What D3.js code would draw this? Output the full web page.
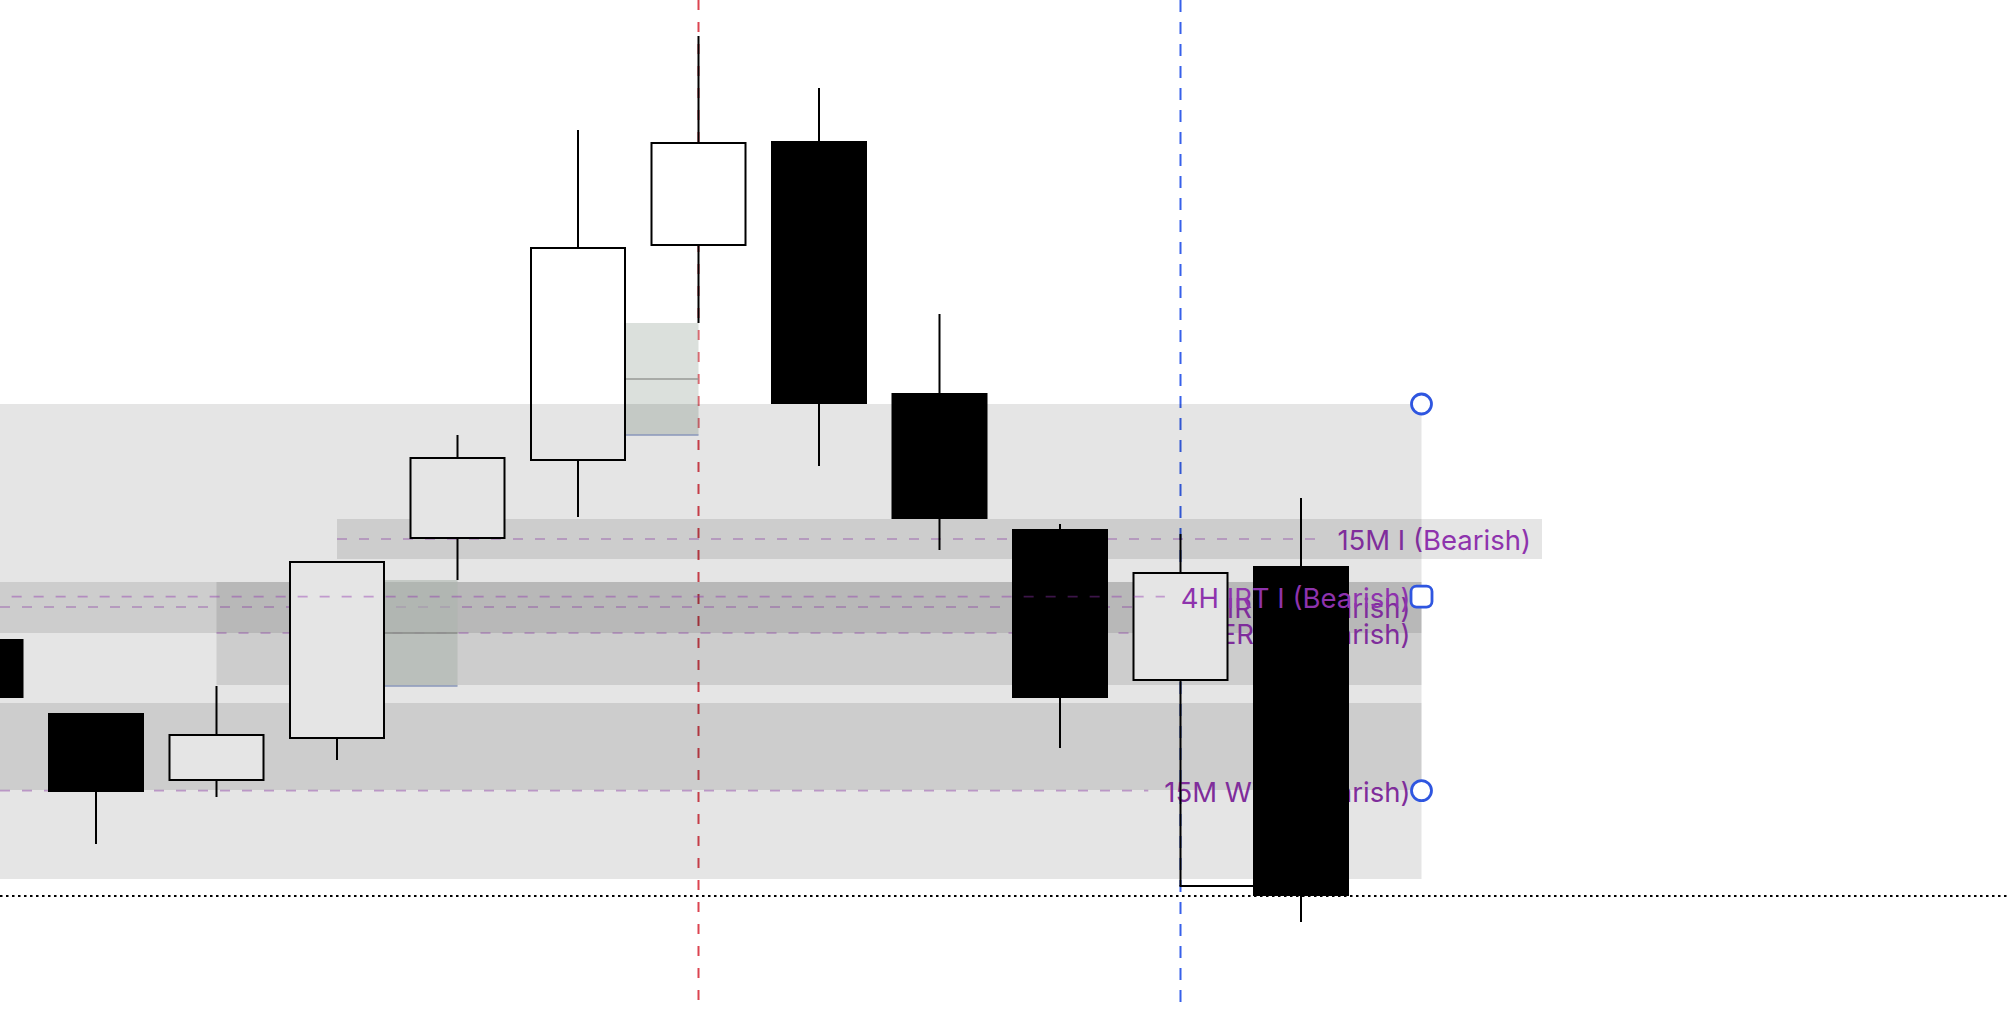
<!DOCTYPE html>
<html><head><meta charset="utf-8">
<script src="https://cdn.jsdelivr.net/npm/d3@7"></script>
<style>html,body{margin:0;padding:0;background:#fff;overflow:hidden}</style>
</head><body><div id="chart"></div>
<script>
// ---- data ----
const times = ["08:00","08:15","08:30","08:45","09:00","09:15","09:30","09:45","10:00","10:15","10:30","10:45"];
const open  = [2318.05, 2314.35, 2310.95, 2313.05, 2323.05, 2326.95, 2337.70, 2342.95, 2330.35, 2323.55, 2315.95, 2321.70];
const high  = [2318.05, 2314.35, 2315.70, 2321.95, 2328.25, 2343.50, 2348.20, 2345.60, 2334.30, 2323.80, 2323.30, 2325.10];
const low   = [2315.10, 2307.80, 2310.15, 2312.00, 2321.00, 2324.15, 2333.85, 2326.70, 2322.50, 2312.60, 2305.70, 2303.90];
const close = [2315.10, 2310.40, 2313.30, 2321.95, 2327.15, 2337.65, 2342.90, 2329.80, 2324.05, 2315.10, 2321.40, 2305.20];

// zones: [top price, bottom price, start bar, end bar]
const rangeZone = [2329.80, 2306.05, -1, 12];
const bandTop    = [2320.90, 2320.90, 2314.85, 2324.05];
const bandBottom = [2318.35, 2315.75, 2310.50, 2322.05];
const bandStart  = [-1, 2, -1, 3];
const bandEnd    = [12, 12, 12, 13];

// levels
const levelNames = ["15M I (Bearish)", "IRT I (Bearish)", "ERL I (Bearish)", "15M WT I (Bearish)", "4H IRT I (Bearish)"];
const levelPrice = [2323.05, 2319.65, 2318.35, 2310.47, 2320.17];
const levelStart = [3, -1, 2, -1, 0.3];
const levelEnd   = [13, 12, 12, 12, 12];

// fair value gaps: middle bar index
const fvgBars = [5, 3];
// vertical markers (bar index)
const redBar = 6, blueBar = 10;
const handleBar = 12;

// ---- chart ----
const W = 2008, H = 1014;
const svg = d3.select("#chart").append("svg").attr("width", W).attr("height", H)
  .style("display","block").style("background","#fff");

const x = d3.scaleLinear().domain([1, 11]).range([96, 1301]);
const y = d3.scaleLinear().domain([2350, 2299.3]).range([0, H]);
const bodyW = 96;
const xs = i => i < 0 ? 0 : x(i);

const gV = svg.append("g"), gBands = svg.append("g"), gLev = svg.append("g"),
      gFvg = svg.append("g"), gC = svg.append("g"), gZone = svg.append("g"),
      gTop = svg.append("g"), gMark = svg.append("g");

// vertical dashed lines
gV.append("line").attr("x1", x(redBar)).attr("x2", x(redBar)).attr("y1", 0).attr("y2", 1006)
  .attr("stroke", "#dc4450").attr("stroke-width", 2).attr("stroke-dasharray", "10,12");
gV.append("line").attr("x1", x(blueBar)).attr("x2", x(blueBar)).attr("y1", 0).attr("y2", 1006)
  .attr("stroke", "#3760ea").attr("stroke-width", 2).attr("stroke-dasharray", "12,10");

// bands
bandTop.forEach((t, i) => {
  gBands.append("rect").attr("x", xs(bandStart[i])).attr("y", y(t))
    .attr("width", x(bandEnd[i]) - xs(bandStart[i])).attr("height", y(bandBottom[i]) - y(t))
    .attr("fill", "rgba(0,0,0,0.1)");
});

// levels
const textColor = "#8e33ad";
const lineColor = "rgba(142,51,173,0.42)";
function drawLevel(g, i) {
  const ly = y(levelPrice[i]);
  const xe = x(levelEnd[i]) - 11;
  const t = g.append("text").attr("x", xe).attr("y", ly + 11).attr("text-anchor", "end")
    .attr("font-family", "Inter, 'Noto Sans', sans-serif").attr("font-size", 27.5)
    .attr("fill", textColor).text(levelNames[i]);
  const tw = t.node().getComputedTextLength();
  g.insert("line", "text").attr("x1", xs(levelStart[i])).attr("x2", xe - tw - 16)
    .attr("y1", ly).attr("y2", ly).attr("stroke", lineColor)
    .attr("stroke-width", 1.6).attr("stroke-dasharray", "10,12");
}
[0,1,2,3].forEach(i => drawLevel(gLev, i));

// fair value gaps
fvgBars.forEach(b => {
  const top = y(low[b + 1]), bot = y(high[b - 1]);
  const x0 = x(b) + bodyW / 2, x1 = x(b + 1);
  gFvg.append("rect").attr("x", x0).attr("y", top).attr("width", x1 - x0).attr("height", bot - top)
    .attr("fill", "rgba(194,202,195,0.59)");
  gFvg.append("line").attr("x1", x0).attr("x2", x1).attr("y1", (top + bot) / 2).attr("y2", (top + bot) / 2)
    .attr("stroke", "#979a96").attr("stroke-width", 1.6);
  gFvg.append("line").attr("x1", x0).attr("x2", x1).attr("y1", bot).attr("y2", bot)
    .attr("stroke", "#9aa9d0").attr("stroke-width", 1.6);
});

// candles
times.forEach((t, i) => {
  const cx = x(i), up = close[i] >= open[i];
  gC.append("line").attr("x1", cx).attr("x2", cx).attr("y1", y(high[i])).attr("y2", y(low[i]))
    .attr("stroke", "#000").attr("stroke-width", 2);
  const yt = y(Math.max(open[i], close[i])), yb = y(Math.min(open[i], close[i]));
  if (up) {
    gC.append("rect").attr("x", cx - bodyW / 2 + 1).attr("y", yt + 1).attr("width", bodyW - 2)
      .attr("height", yb - yt - 2).attr("fill", "#fff").attr("stroke", "#000").attr("stroke-width", 2);
  } else {
    gC.append("rect").attr("x", cx - bodyW / 2).attr("y", yt).attr("width", bodyW)
      .attr("height", yb - yt).attr("fill", "#000");
  }
});
// equal-low connector from bar 10 low to bar 11
gC.append("line").attr("x1", x(10) - 1).attr("x2", x(11) - bodyW / 2).attr("y1", y(low[10])).attr("y2", y(low[10]))
  .attr("stroke", "#000").attr("stroke-width", 2);

// range zone on top of candles
gZone.append("rect").attr("x", xs(rangeZone[2])).attr("y", y(rangeZone[0]))
  .attr("width", x(rangeZone[3]) - xs(rangeZone[2])).attr("height", y(rangeZone[1]) - y(rangeZone[0]))
  .attr("fill", "rgba(0,0,0,0.1)");

// top level
drawLevel(gTop, 4);

// last close dotted line
gMark.append("line").attr("x1", 0).attr("x2", W).attr("y1", y(close[11])).attr("y2", y(close[11]))
  .attr("stroke", "#000").attr("stroke-width", 2).attr("stroke-dasharray", "2.5,3.5");

// handles
const hx = x(handleBar);
[rangeZone[0], levelPrice[3]].forEach(p => {
  gMark.append("circle").attr("cx", hx).attr("cy", y(p)).attr("r", 10)
    .attr("fill", "#fff").attr("stroke", "#2f56e0").attr("stroke-width", 2.8);
});
gMark.append("rect").attr("x", hx - 10.5).attr("y", y(levelPrice[4]) - 10.5).attr("width", 21).attr("height", 21)
  .attr("rx", 5.5).attr("fill", "#fff").attr("stroke", "#2f56e0").attr("stroke-width", 2.8);
</script></body></html>
